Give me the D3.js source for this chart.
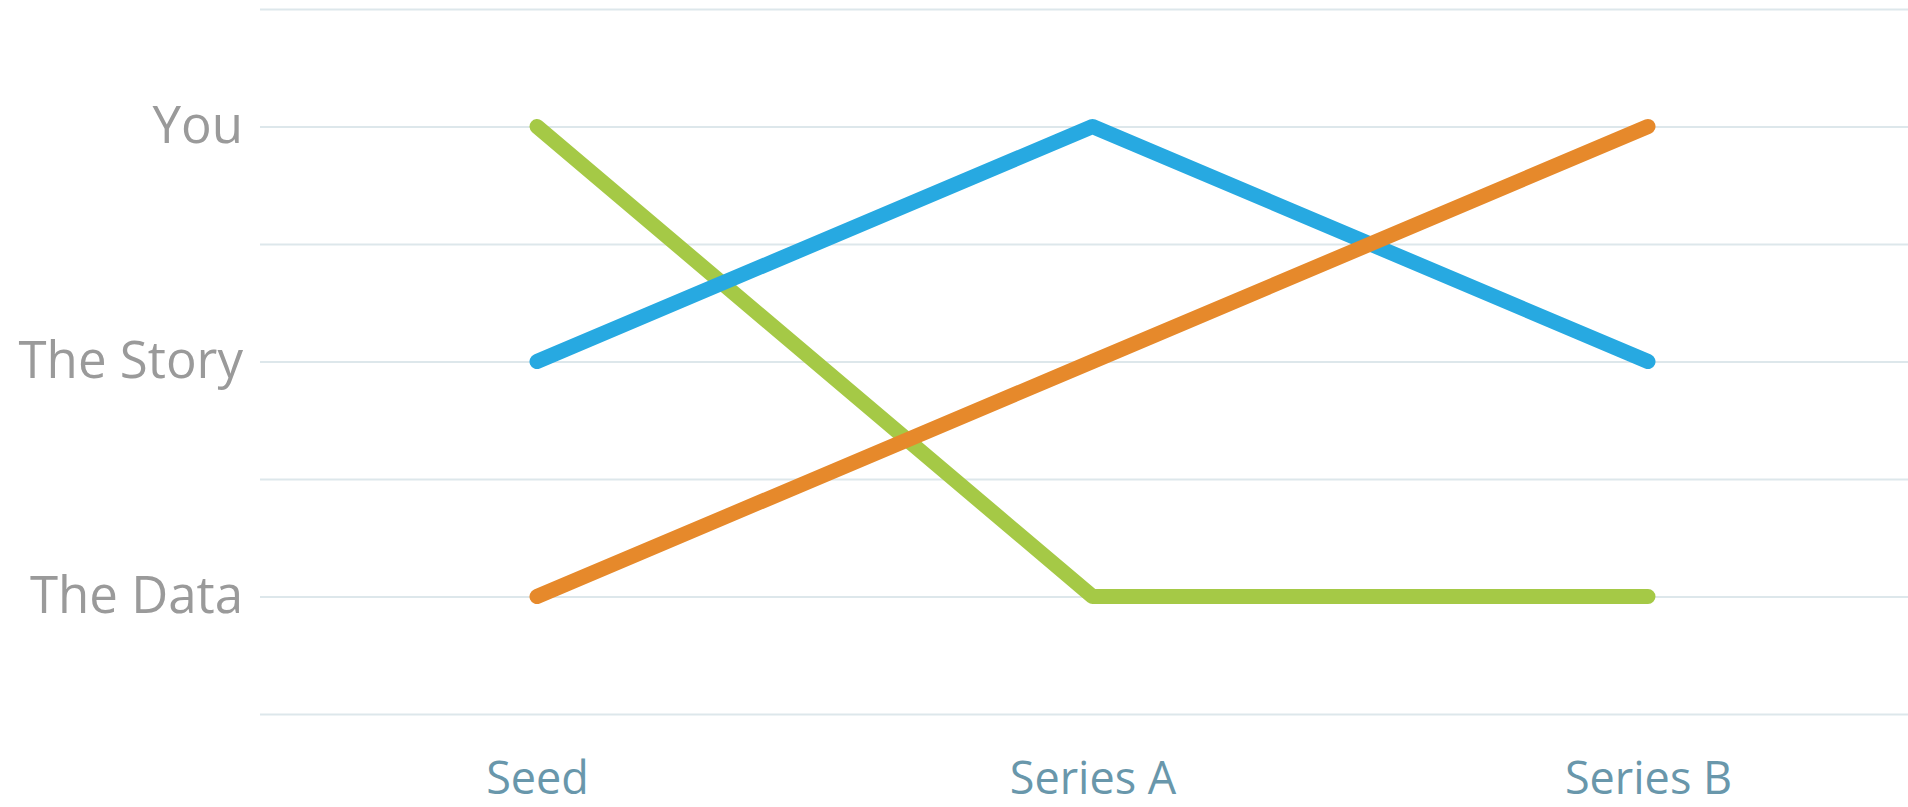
<!DOCTYPE html>
<html>
<head>
<meta charset="utf-8">
<script src="https://cdn.jsdelivr.net/npm/d3@7"></script>
<style>
  html, body { margin: 0; padding: 0; background: #ffffff; }
  svg { display: block; }
</style>
</head>
<body>
<svg id="chart" width="1908" height="807"></svg>
<script>
// Stages along the horizontal axis
const stages = ["Seed", "Series A", "Series B"];

// Levels on the vertical axis (value -> label)
const levelValues = [1, 2, 3];
const levelLabels = ["The Data", "The Story", "You"];

// Gridline positions (every half level)
const gridValues = [0.5, 1, 1.5, 2, 2.5, 3, 3.5];

// Series values, one level per stage
const greenValues  = [3, 1, 1];
const blueValues   = [2, 3, 2];
const orangeValues = [1, 2, 3];

const seriesList = [
  { name: "green",  values: greenValues,  color: "#a5c946" },
  { name: "blue",   values: blueValues,   color: "#27a9e1" },
  { name: "orange", values: orangeValues, color: "#e6892b" }
];

const W = 1908, H = 807;
const plotLeft = 260, plotTop = 9, plotBottom = 714;

const svg = d3.select("#chart");

const x = d3.scalePoint()
  .domain(stages)
  .range([537, 1648]);

const y = d3.scaleLinear()
  .domain([0.5, 3.5])
  .range([plotBottom, plotTop]);

// Horizontal gridlines with level labels on the left
const labelFor = v => {
  const i = levelValues.indexOf(v);
  return i >= 0 ? levelLabels[i] : "";
};

const yAxis = svg.append("g")
  .attr("transform", `translate(${plotLeft},0)`)
  .call(d3.axisLeft(y)
    .tickValues(gridValues)
    .tickSize(-(W - plotLeft))
    .tickPadding(17)
    .tickFormat(labelFor));

yAxis.select(".domain").remove();
yAxis.selectAll(".tick line")
  .attr("stroke", "#dde7eb")
  .attr("stroke-width", 2);
yAxis.selectAll(".tick text")
  .attr("fill", "#9a9a9a")
  .style("font-family", "'Open Sans', sans-serif")
  .style("font-size", "51px");

// Stage labels along the bottom
const xAxis = svg.append("g")
  .attr("transform", `translate(0,${plotBottom})`)
  .call(d3.axisBottom(x).tickSize(0));

xAxis.select(".domain").remove();
xAxis.selectAll(".tick text")
  .attr("y", 64)
  .attr("dy", "0.36em")
  .attr("fill", "#6997ab")
  .style("font-family", "'Open Sans', sans-serif")
  .style("font-size", "45px");

// Series lines
const line = d3.line()
  .x((d, i) => x(stages[i]))
  .y(d => y(d));

svg.append("g")
  .selectAll("path")
  .data(seriesList)
  .join("path")
  .attr("d", d => line(d.values))
  .attr("fill", "none")
  .attr("stroke", d => d.color)
  .attr("stroke-width", 15)
  .attr("stroke-linecap", "round")
  .attr("stroke-linejoin", "round");
</script>
</body>
</html>
